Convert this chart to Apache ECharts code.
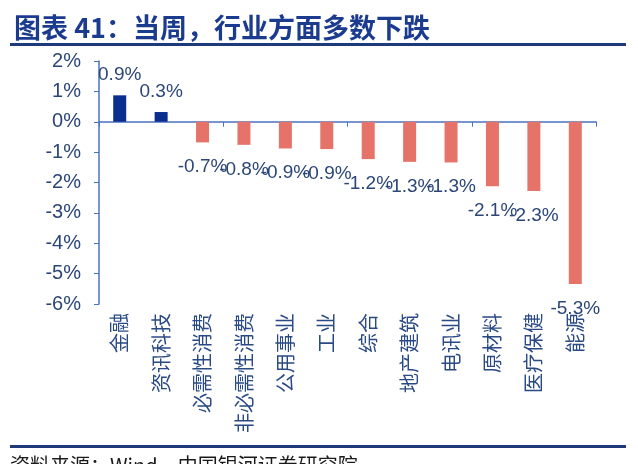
<!DOCTYPE html>
<html>
<head>
<meta charset="utf-8">
<script src="https://cdn.jsdelivr.net/npm/echarts@6/dist/echarts.min.js"></script>
<style>
  html, body { margin: 0; padding: 0; background: #fff; }
  #chart { width: 638px; height: 464px; }
</style>
</head>
<body>
<div id="chart"></div>
<script>
var categories = ['金融', '资讯科技', '必需性消费', '非必需性消费', '公用事业', '工业',
  '综合', '地产建筑', '电讯业', '原材料', '医疗保健', '能源'];
// weekly change, %
var weeklyChange = [0.87, 0.32, -0.68, -0.76, -0.88, -0.9, -1.23, -1.32, -1.34, -2.12, -2.28, -5.34];
var yTicks = [-6, -5, -4, -3, -2, -1, 0, 1, 2];

var textColor = '#2b4677';
var axisColor = '#4a72c0';
var font = '"Liberation Sans", Arial, "Noto Sans CJK SC", sans-serif';

var chart = echarts.init(document.getElementById('chart'), null, { renderer: 'canvas' });

var barData = weeklyChange.map(function (v) {
  var up = v >= 0;
  return {
    value: v,
    itemStyle: { color: up ? '#0b2d8e' : '#e5736a' },
    label: { position: up ? 'top' : 'bottom', distance: up ? 11 : 15 }
  };
});

var option = {
  animation: false,
  backgroundColor: '#fff',
  title: {
    text: '图表 41：当周，行业方面多数下跌',
    left: 9,
    top: 9,
    textStyle: {
      fontSize: 27,
      fontWeight: 'bold',
      color: '#1b3b8e',
      fontFamily: '"Noto Sans CJK SC", sans-serif'
    }
  },
  graphic: [
    { type: 'rect', shape: { x: 10, y: 43, width: 616, height: 3 }, style: { fill: '#1f3a7a' } },
    { type: 'rect', shape: { x: 10, y: 445, width: 616, height: 3 }, style: { fill: '#1f3a7a' } },
    {
      type: 'text', left: 10, top: 455,
      style: { text: '资料来源：Wind，中国银河证券研究院', fontSize: 20, fill: '#1a1a1a',
        fontFamily: '"Noto Sans CJK SC", sans-serif' }
    }
  ],
  grid: { left: 99, right: 42, top: 61, bottom: 160 },
  xAxis: [{
    type: 'category',
    data: categories,
    axisLine: { onZero: true, lineStyle: { color: axisColor, width: 1.5 } },
    axisTick: { show: true, length: 5, inside: false, lineStyle: { color: axisColor } },
    axisLabel: { show: false }
  }, {
    type: 'category',
    data: categories,
    position: 'bottom',
    axisLine: { show: false, onZero: false },
    axisTick: { show: false },
    axisLabel: {
      rotate: 90,
      margin: 9,
      fontSize: 20,
      color: '#2a4a86',
      fontFamily: '"Noto Sans CJK SC", sans-serif'
    }
  }],
  yAxis: {
    type: 'value',
    min: yTicks[0],
    max: yTicks[yTicks.length - 1],
    interval: 1,
    splitLine: { show: false },
    axisLine: { show: true, lineStyle: { color: axisColor, width: 1.5 } },
    axisTick: { show: true, length: 5, lineStyle: { color: axisColor } },
    axisLabel: {
      margin: 18,
      fontSize: 20,
      color: textColor,
      fontFamily: font,
      formatter: function (v) { return v + '%'; }
    }
  },
  series: [{
    type: 'bar',
    xAxisIndex: 0,
    barWidth: 13,
    data: barData,
    label: {
      show: true,
      fontSize: 19,
      color: textColor,
      fontFamily: font,
      formatter: function (p) { return p.value.toFixed(1) + '%'; }
    }
  }]
};

chart.setOption(option);
</script>
</body>
</html>
